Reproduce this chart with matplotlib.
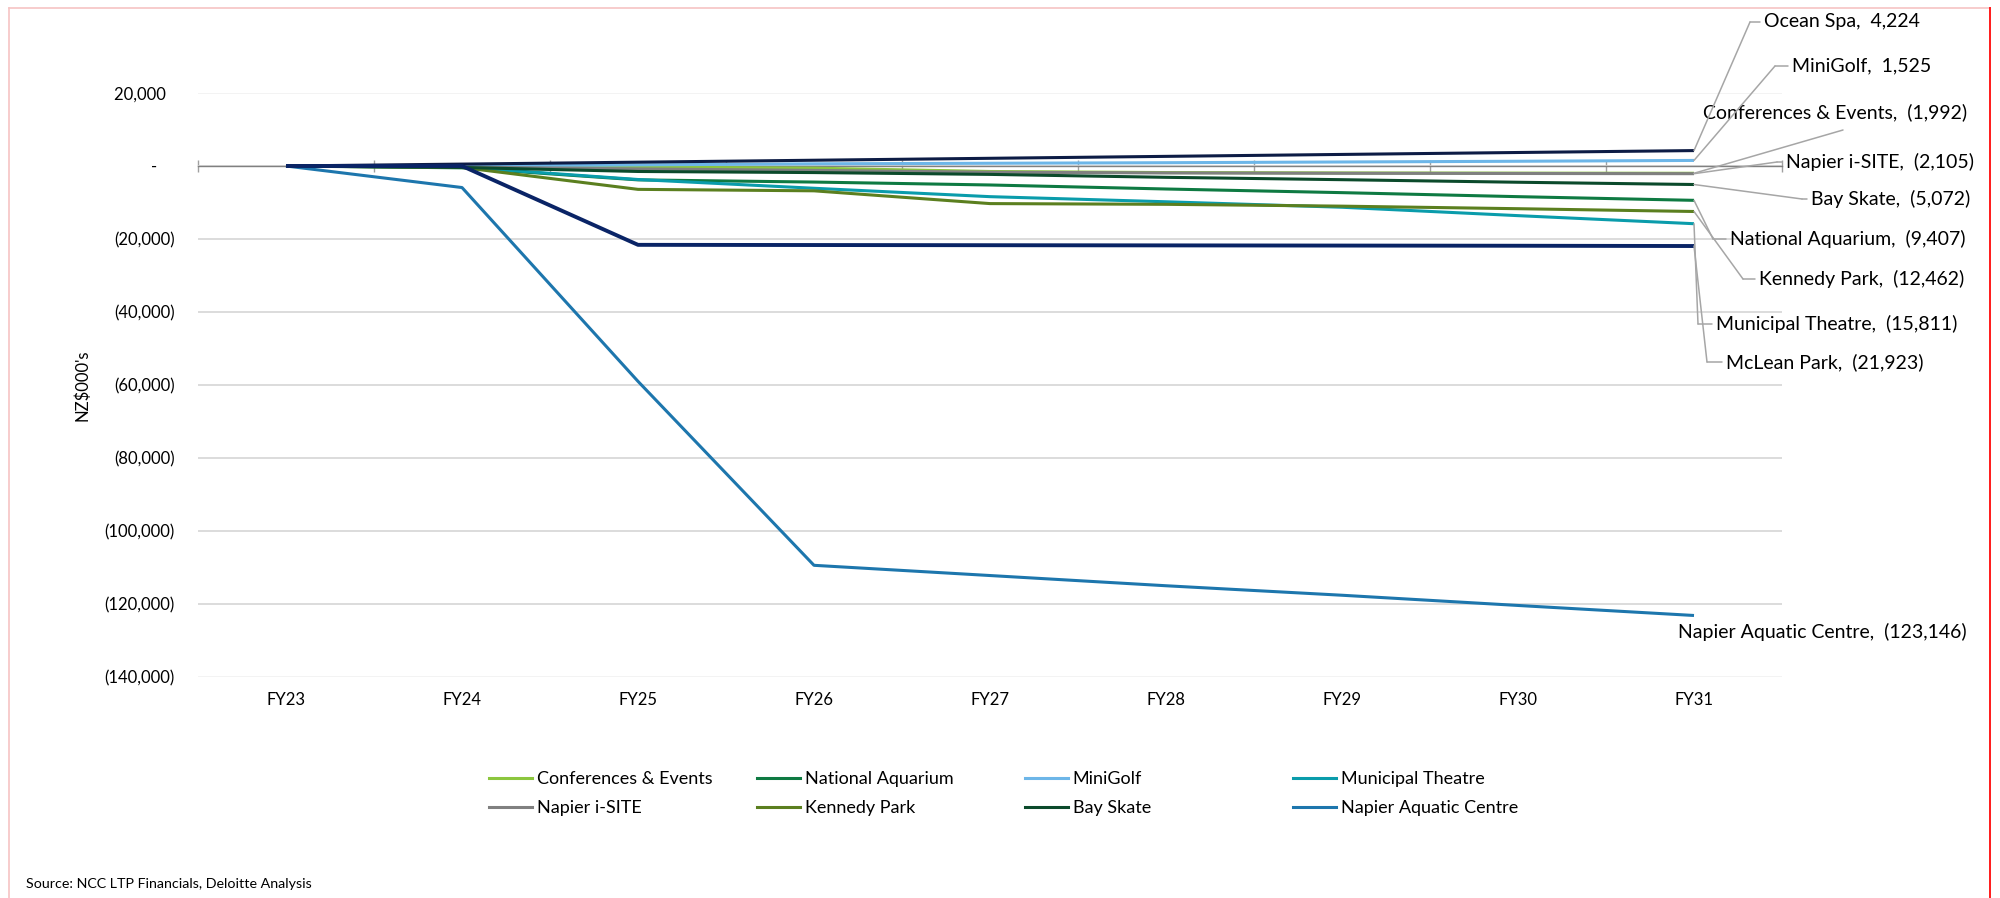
import numpy as np
import matplotlib.pyplot as plt
from matplotlib.lines import Line2D
from matplotlib.ticker import FuncFormatter

plt.rcParams['font.family'] = ['Lato', 'DejaVu Sans']

# cumulative net position by facility, NZ$000's
years = ['FY23', 'FY24', 'FY25', 'FY26', 'FY27', 'FY28', 'FY29', 'FY30', 'FY31']
conferences_events = [0, -100, -300, -600, -1500, -1800, -1900, -1950, -1992]
national_aquarium = [0, -500, -3800, -4400, -5200, -6300, -7300, -8400, -9407]
minigolf = [0, 0, 300, 600, 750, 900, 1100, 1300, 1525]
municipal_theatre = [0, -300, -3700, -6100, -8400, -9800, -11300, -13600, -15811]
napier_isite = [0, -300, -800, -1200, -1700, -1900, -2000, -2050, -2105]
kennedy_park = [0, -400, -6400, -6800, -10300, -10500, -11000, -11700, -12462]
bay_skate = [0, -400, -1500, -1800, -2300, -3100, -3750, -4450, -5072]
aquatic_centre = [0, -5900, -59000, -109400, -112200, -115000, -117600, -120400, -123146]
ocean_spa = [0, 520, 1050, 1580, 2110, 2640, 3170, 3700, 4224]
mclean_park = [0, 0, -21600, -21650, -21700, -21750, -21800, -21850, -21923]

# name, values, colour, line width
series = [
    ('Conferences & Events', conferences_events, '#8CC63E', 2.2),
    ('National Aquarium', national_aquarium, '#0E7A42', 2.2),
    ('MiniGolf', minigolf, '#6DB6E8', 2.2),
    ('Municipal Theatre', municipal_theatre, '#0A9CAB', 2.2),
    ('Napier i-SITE', napier_isite, '#808080', 2.2),
    ('Kennedy Park', kennedy_park, '#5B7F1F', 2.2),
    ('Bay Skate', bay_skate, '#0B4A2B', 2.2),
    ('Napier Aquatic Centre', aquatic_centre, '#1D76AD', 2.2),
    ('Ocean Spa', ocean_spa, '#0D1C45', 2.2),
    ('McLean Park', mclean_park, '#0A2466', 2.8),
]

# label text position and leader elbow, in pixels from the top-left corner
label_layout = {
    'Ocean Spa': (1764, 22, 1750, 22),
    'MiniGolf': (1792, 66, 1775, 66),
    'Conferences & Events': (1703, 112, 1843, 130),
    'Napier i-SITE': (1786, 162, 1777, 162),
    'Bay Skate': (1811, 199, 1802, 199),
    'National Aquarium': (1730, 239, 1713, 239),
    'Kennedy Park': (1759, 279, 1743, 279),
    'Municipal Theatre': (1716, 324, 1698, 324),
    'McLean Park': (1726, 362, 1707, 362),
    'Napier Aquatic Centre': (1678, 632, None, None),
}


def acct(v, pos=None):
    # accounting style: dash for zero, brackets for negatives
    if abs(v) < 0.5:
        return '-'
    if v < 0:
        return f'({-v:,.0f})'
    return f'{v:,.0f}'


def acct_tick(v, pos=None):
    # pad so the digits line up with the bracketed labels
    s = acct(v)
    if s == '-':
        return s + '    '
    if v > 0:
        return s + '  '
    return s


W, H = 2000, 898
fig = plt.figure(figsize=(W / 100, H / 100), dpi=100)
ax = fig.add_axes([198 / W, 1 - 677 / H, (1782 - 198) / W, (677 - 93) / H])

x = np.arange(len(years))
for name, vals, col, lw in series:
    ax.plot(x, vals, color=col, lw=lw, zorder=3, solid_capstyle='butt')

ax.set_xlim(-0.5, len(years) - 0.5)
ax.set_ylim(-140000, 20000)
ax.set_yticks(np.arange(-140000, 20001, 20000))
ax.yaxis.set_major_formatter(FuncFormatter(acct_tick))
ax.tick_params(axis='y', length=0, pad=17, labelsize=12)
ax.grid(axis='y', color='#D9D9D9', lw=1.3)
gl = ax.yaxis.get_gridlines()
gl[0].set_color('#F2F2F2')
gl[-1].set_color('#F2F2F2')
ax.set_axisbelow(True)

for s in ['left', 'right', 'top']:
    ax.spines[s].set_visible(False)
ax.spines['bottom'].set_position(('data', 0))
ax.spines['bottom'].set_color('#808080')
ax.spines['bottom'].set_linewidth(1.0)
ax.set_xticks(np.arange(-0.5, len(years), 1))
ax.tick_params(axis='x', direction='inout', length=9, width=1.0,
               color='#A0A0A0', labelbottom=False)

# category labels sit under the plot area
sec = ax.secondary_xaxis('bottom')
sec.set_xticks(x, labels=years)
sec.tick_params(length=0, pad=11, labelsize=12)
sec.spines['bottom'].set_visible(False)

ax.set_ylabel("NZ\\$000's", fontsize=12)
ax.yaxis.set_label_coords(-0.068, 0.5)

# data labels with leader lines
xl = x[-1]
lead = dict(arrowstyle='-', color='#A6A6A6', lw=1.1, shrinkA=0, shrinkB=0)
for name, vals, col, lw in series:
    tx, ty, ex, ey = label_layout[name]
    text = f'{name},  {acct(vals[-1])}'
    ax.annotate(text, xy=(tx, H - ty), xycoords='figure pixels',
                ha='left', va='center', fontsize=14, color='#000000')
    if ex is None:
        continue
    ax.annotate('', xy=(xl, vals[-1]), xycoords='data',
                xytext=(ex, H - ey), textcoords='figure pixels',
                arrowprops=lead, annotation_clip=False)
    if ey == ty:
        ax.annotate('', xy=(tx - 4, H - ty), xycoords='figure pixels',
                    xytext=(ex, H - ey), textcoords='figure pixels',
                    arrowprops=lead, annotation_clip=False)

# legend laid out as four evenly spaced columns
legend_cols = [
    ['Conferences & Events', 'Napier i-SITE'],
    ['National Aquarium', 'Kennedy Park'],
    ['MiniGolf', 'Bay Skate'],
    ['Municipal Theatre', 'Napier Aquatic Centre'],
]
styles = {name: (col, lw) for name, vals, col, lw in series}
for i, names in enumerate(legend_cols):
    handles = [Line2D([], [], color=styles[n][0], lw=styles[n][1]) for n in names]
    fig.legend(handles, names, loc='upper left',
               bbox_to_anchor=((489 + 268 * i) / W, 1 - 771 / H),
               frameon=False, fontsize=13, handlelength=2.4,
               handletextpad=0.25, borderpad=0, borderaxespad=0,
               labelspacing=0.72)

fig.text(26 / W, 1 - 884 / H, 'Source: NCC LTP Financials, Deloitte Analysis',
         fontsize=10.3, va='center', ha='left')

# thin page frame
fig.add_artist(Line2D([9 / W, 9 / W], [0, 1 - 8 / H], color='#F6C4C4', lw=1.2))
fig.add_artist(Line2D([9 / W, 1990 / W], [1 - 8 / H, 1 - 8 / H], color='#F6C4C4', lw=1.2))
fig.add_artist(Line2D([1990 / W, 1990 / W], [0, 1 - 8 / H], color='#FF1A1A', lw=1.4))

fig.savefig('out.png', dpi=100)
